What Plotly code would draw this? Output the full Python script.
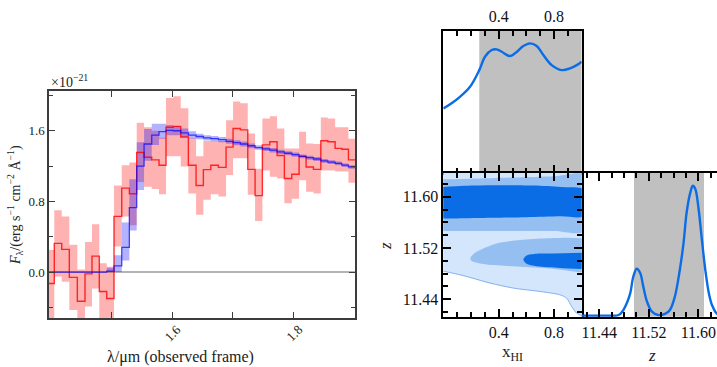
import plotly.graph_objects as go

FONT = "Liberation Serif"

# ---------------- spectrum (left panel), flux in units of 1e-21 ----------------
wave_edges = [1.3942, 1.4064, 1.4186, 1.4311, 1.4443, 1.4569, 1.4684, 1.4804, 1.4926,
              1.5046, 1.5173, 1.5298, 1.5419, 1.5540, 1.5666, 1.5786, 1.5901, 1.6021,
              1.6143, 1.6268, 1.6395, 1.6515, 1.6637, 1.6762, 1.6888, 1.7003, 1.7123,
              1.7245, 1.7365, 1.7485, 1.7607, 1.7727, 1.7847, 1.7969, 1.8089, 1.8204,
              1.8324, 1.8446, 1.8561, 1.8681, 1.8791, 1.8900, 1.9021]
obs_flux = [-0.13, 0.325, 0.257, -0.06, -0.33, -0.02, 0.18, -0.22, -0.30, 0.63, 0.95,
            0.886, 1.354, 1.30, 1.27, 1.21, 1.64, 1.65, 1.53, 1.21, 0.98, 1.16, 1.21,
            1.185, 1.415, 1.625, 1.61, 1.163, 0.866, 1.44, 1.475, 1.32, 1.06, 1.107,
            1.31, 1.19, 1.163, 1.487, 1.475, 1.40, 1.39, 1.27]
obs_hi = [0.25, 0.70, 0.63, 0.31, 0.03, 0.34, 0.54, 0.10, 0.06, 0.98, 1.21, 1.24, 1.69,
          1.64, 1.60, 1.52, 1.97, 1.99, 1.855, 1.515, 1.31, 1.485, 1.485, 1.485, 1.72,
          1.93, 1.91, 1.57, 1.17, 1.74, 1.765, 1.625, 1.40, 1.40, 1.59, 1.455, 1.45,
          1.75, 1.74, 1.64, 1.64, 1.51]
obs_lo = [-0.55, -0.05, -0.11, -0.43, -0.69, -0.39, -0.185, -0.54, -0.66, 0.29, 0.63,
          0.53, 1.02, 0.965, 0.94, 0.88, 1.31, 1.31, 1.195, 0.89, 0.65, 0.82, 0.88,
          0.855, 1.10, 1.29, 1.29, 0.875, 0.577, 1.15, 1.08, 1.06, 0.78, 0.83, 1.04,
          0.91, 0.89, 1.15, 1.15, 1.14, 1.14, 1.01]
mod_flux = [0.0, 0.0, 0.0, 0.0, 0.0, 0.0, 0.0, 0.0, 0.01, 0.07, 0.28, 0.73, 1.20, 1.45,
            1.55, 1.59, 1.605, 1.60, 1.575, 1.55, 1.535, 1.52, 1.51, 1.50, 1.48, 1.465,
            1.45, 1.43, 1.41, 1.395, 1.38, 1.36, 1.345, 1.33, 1.31, 1.295, 1.28, 1.26,
            1.245, 1.23, 1.21, 1.19]
mod_lo = [0.0, 0.0, 0.0, 0.0, 0.0, 0.0, 0.0, 0.0, 0.0, 0.0, 0.13, 0.47, 0.93, 1.26,
          1.44, 1.51, 1.55, 1.55, 1.53, 1.51, 1.505, 1.49, 1.48, 1.47, 1.452, 1.437,
          1.422, 1.403, 1.384, 1.37, 1.355, 1.336, 1.322, 1.307, 1.288, 1.273, 1.258,
          1.239, 1.224, 1.209, 1.19, 1.17]
mod_hi = [0.0, 0.0, 0.0, 0.0, 0.0, 0.0, 0.0, 0.0, 0.05, 0.19, 0.56, 1.05, 1.47, 1.62,
          1.68, 1.68, 1.665, 1.655, 1.625, 1.595, 1.565, 1.55, 1.54, 1.53, 1.508,
          1.493, 1.478, 1.457, 1.436, 1.42, 1.405, 1.384, 1.368, 1.353, 1.332, 1.317,
          1.302, 1.281, 1.266, 1.251, 1.23, 1.21]
spec_xticks = [1.6, 1.8]
spec_yticks = [0.0, 0.8, 1.6]

# ---------------- x_HI marginal (top panel) ----------------
xhi_grid = [0.0, 0.06, 0.12, 0.193, 0.26, 0.301, 0.35, 0.386, 0.422, 0.482, 0.518,
            0.578, 0.626, 0.675, 0.723, 0.783, 0.855, 0.915, 0.964, 1.0]
xhi_pdf = [0.453, 0.49, 0.535, 0.606, 0.723, 0.817, 0.864, 0.869, 0.852, 0.822, 0.841,
           0.892, 0.911, 0.892, 0.829, 0.758, 0.723, 0.735, 0.758, 0.782]
xhi_interval = [0.26, 1.0]

# ---------------- z marginal (bottom-right panel) ----------------
z_grid = [11.405, 11.44, 11.46, 11.468, 11.474, 11.479, 11.485, 11.490, 11.495, 11.5004,
          11.506, 11.511, 11.517, 11.525, 11.535, 11.546, 11.554, 11.562, 11.570,
          11.576, 11.581, 11.587, 11.591, 11.595, 11.600, 11.606, 11.611, 11.617,
          11.622, 11.630, 11.64]
z_pdf = [0.007, 0.007, 0.007, 0.008, 0.02, 0.047, 0.10, 0.164, 0.28, 0.334, 0.304, 0.21,
         0.105, 0.035, 0.012, 0.019, 0.047, 0.14, 0.327, 0.514, 0.725, 0.865, 0.911,
         0.888, 0.76, 0.52, 0.33, 0.16, 0.08, 0.02, 0.008]
z_interval = [11.496, 11.609]

# ---------------- 2D posterior contours (x_HI, z) ----------------
c_light_x = [-0.02, -0.02, 0.0, 0.145, 0.337, 0.506, 0.699, 0.843, 0.891, 0.928, 0.964, 1.0, 1.02, 1.02]
c_light_z = [11.70, 11.4835, 11.4835, 11.4767, 11.4652, 11.4573, 11.452, 11.4468, 11.4416,
             11.4283, 11.418, 11.4137, 11.40, 11.70]
c_mid_up_x = [-0.02, 0.2, 0.5, 0.8, 1.02, 1.02, 0.8, 0.5, 0.2, -0.02]
c_mid_up_z = [11.627, 11.628, 11.630, 11.632, 11.634, 11.546, 11.5465, 11.5465, 11.5465, 11.5465]
c_dark_up_x = [-0.02, 0.15, 0.4, 0.65, 0.85, 1.02, 1.02, 0.85, 0.6, 0.35, 0.1, -0.02]
c_dark_up_z = [11.615, 11.617, 11.6178, 11.6173, 11.615, 11.611, 11.570, 11.5695, 11.568,
               11.567, 11.566, 11.566]
c_mid_lo_x = [1.02, 0.891, 0.747, 0.554, 0.385, 0.289, 0.229, 0.196, 0.20, 0.229, 0.313,
              0.506, 0.747, 1.02]
c_mid_lo_z = [11.535, 11.536, 11.535, 11.5323, 11.5271, 11.5192, 11.5124, 11.5046, 11.5005,
              11.4976, 11.494, 11.4913, 11.4882, 11.481]
c_dark_lo_x = [1.02, 0.795, 0.675, 0.602, 0.578, 0.602, 0.675, 0.843, 1.02]
c_dark_lo_z = [11.5124, 11.5113, 11.5109, 11.5082, 11.5019, 11.4951, 11.4913, 11.4888, 11.487]
hi_ticks = [0.4, 0.8]
z_ticks = [11.44, 11.52, 11.60]

DARK = "#0b6de6"
MID = "#95bff1"
LIGHT = "#d3e6fb"

fig = go.Figure()


def stepped(v):
    return list(v) + [v[-1]]


# left panel
fig.add_trace(go.Scatter(x=wave_edges, y=stepped(obs_lo), mode="lines", line=dict(width=0, shape="hv"),
                         hoverinfo="skip", showlegend=False))
fig.add_trace(go.Scatter(x=wave_edges, y=stepped(obs_hi), mode="lines", line=dict(width=0, shape="hv"),
                         fill="tonexty", fillcolor="rgba(255,0,0,0.30)", hoverinfo="skip", showlegend=False))
fig.add_trace(go.Scatter(x=wave_edges, y=stepped(mod_lo), mode="lines", line=dict(width=0, shape="hv"),
                         hoverinfo="skip", showlegend=False))
fig.add_trace(go.Scatter(x=wave_edges, y=stepped(mod_hi), mode="lines", line=dict(width=0, shape="hv"),
                         fill="tonexty", fillcolor="rgba(0,0,255,0.30)", hoverinfo="skip", showlegend=False))
fig.add_trace(go.Scatter(x=wave_edges, y=stepped(obs_flux), mode="lines",
                         line=dict(color="rgba(255,0,0,0.8)", width=1.4, shape="hv"), showlegend=False))
fig.add_trace(go.Scatter(x=wave_edges, y=stepped(mod_flux), mode="lines",
                         line=dict(color="rgba(0,0,255,0.7)", width=1.3, shape="hv"), showlegend=False))

# top panel (x_HI marginal)
fig.add_trace(go.Scatter(x=xhi_grid, y=xhi_pdf, mode="lines", xaxis="x2", yaxis="y2",
                         line=dict(color=DARK, width=2.4, shape="spline"), showlegend=False))

# 2D panel
for xs, zs, col, lw in [(c_light_x, c_light_z, LIGHT, 1.0), (c_mid_up_x, c_mid_up_z, MID, 0),
                        (c_dark_up_x, c_dark_up_z, DARK, 0), (c_mid_lo_x, c_mid_lo_z, MID, 0),
                        (c_dark_lo_x, c_dark_lo_z, DARK, 0)]:
    fig.add_trace(go.Scatter(x=xs, y=zs, mode="lines", xaxis="x3", yaxis="y3", fill="toself",
                             fillcolor=col, line=dict(color="#7fb0ee" if lw else col, width=lw,
                                                      shape="spline", smoothing=0.8),
                             hoverinfo="skip", showlegend=False))

# z marginal
fig.add_trace(go.Scatter(x=z_grid, y=z_pdf, mode="lines", xaxis="x4", yaxis="y4",
                         line=dict(color=DARK, width=2.4, shape="spline"), showlegend=False))

fig.add_shape(type="rect", xref="x2", yref="y2 domain", x0=xhi_interval[0], x1=xhi_interval[1],
              y0=0, y1=1, fillcolor="#c0c0c0", line_width=0, layer="below")
fig.add_shape(type="rect", xref="x4", yref="y4 domain", x0=z_interval[0], x1=z_interval[1],
              y0=0, y1=1, fillcolor="#c0c0c0", line_width=0, layer="below")

W, H = 717, 367


def px(xp):
    return xp / W


def py(yp):
    return 1 - yp / H


LCOL = "#3c3c3c"
left_axis = dict(showline=True, linecolor=LCOL, linewidth=1.5, mirror="allticks", ticks="inside",
                 tickcolor=LCOL, tickwidth=1.2, showgrid=False, zeroline=False,
                 tickfont=dict(family=FONT, size=13, color="#222"))
right_axis = dict(showline=True, linecolor="black", linewidth=1.8, mirror="allticks", ticks="inside",
                  tickcolor="black", tickwidth=1.5, ticklen=8, showgrid=False, zeroline=False,
                  tickfont=dict(family=FONT, size=16, color="#111"))

fig.update_layout(
    width=W, height=H, margin=dict(l=0, r=0, t=0, b=0),
    paper_bgcolor="white", plot_bgcolor="white", showlegend=False,
    xaxis=dict(left_axis, domain=[px(49), px(355)], range=[1.3977, 1.9008], tickmode="array",
               tickvals=[1.5, 1.6, 1.7, 1.8, 1.9], ticklen=6, showticklabels=False, anchor="y"),
    yaxis=dict(left_axis, domain=[py(318), py(91)], range=[-0.52, 2.05], tickmode="array",
               tickvals=spec_yticks, ticktext=["%.1f" % v for v in spec_yticks], ticklen=6,
               minor=dict(ticks="inside", tickvals=[-0.4, 0.4, 1.2, 2.0], ticklen=4,
                          tickcolor=LCOL, tickwidth=1.2),
               zeroline=True, zerolinecolor="#b4b4b4", zerolinewidth=1.6, anchor="x"),
    xaxis2=dict(right_axis, domain=[px(443.3), px(581.7)], range=[0, 1], side="top", anchor="y2",
                tickmode="array", tickvals=hi_ticks, ticktext=["%.1f" % v for v in hi_ticks],
                minor=dict(ticks="inside", dtick=0.1, tick0=0, ticklen=5, tickcolor="black", tickwidth=1.5)),
    yaxis2=dict(showline=True, linecolor="black", linewidth=1.8, mirror=True, ticks="",
                showticklabels=False, showgrid=False, zeroline=False,
                domain=[py(173), py(30.7)], range=[0, 1], anchor="x2"),
    xaxis3=dict(right_axis, domain=[px(443.3), px(581.7)], range=[0, 1], anchor="y3",
                tickmode="array", tickvals=hi_ticks, ticktext=["%.1f" % v for v in hi_ticks],
                minor=dict(ticks="inside", dtick=0.1, tick0=0, ticklen=5, tickcolor="black", tickwidth=1.5)),
    yaxis3=dict(right_axis, domain=[py(316.7), py(173)], range=[11.4126, 11.637], anchor="x3",
                tickmode="array", tickvals=z_ticks, ticktext=["%.2f" % v for v in z_ticks],
                minor=dict(ticks="inside", dtick=0.02, tick0=11.40, ticklen=5, tickcolor="black", tickwidth=1.5)),
    xaxis4=dict(right_axis, domain=[px(581.7), 1.0], range=[11.4116, 11.630], anchor="y4",
                tickmode="array", tickvals=z_ticks, ticktext=["%.2f" % v for v in z_ticks],
                minor=dict(ticks="inside", dtick=0.02, tick0=11.40, ticklen=5, tickcolor="black", tickwidth=1.5)),
    yaxis4=dict(showline=False, ticks="", showticklabels=False, showgrid=False, zeroline=False,
                domain=[py(316.7), py(173)], range=[0, 1], anchor="x4"),
)

ann = []
for v in spec_xticks:
    ann.append(dict(x=v, xref="x", y=py(333), yref="paper", text="%.1f" % v, showarrow=False,
                    textangle=-45, font=dict(family=FONT, size=13, color="#222"),
                    xanchor="center", yanchor="middle"))
ann += [
    dict(x=px(49), y=py(81), xref="paper", yref="paper", text="×10<sup>−21</sup>", showarrow=False,
         xanchor="left", yanchor="middle", font=dict(family=FONT, size=14, color="#222")),
    dict(x=px(15), y=py(205), xref="paper", yref="paper", textangle=-90,
         text="<i>F</i><sub>λ</sub>/(erg s<sup>−1</sup> cm<sup>−2</sup> Å<sup>−1</sup>)", showarrow=False,
         xanchor="center", yanchor="middle", font=dict(family=FONT, size=14, color="#222")),
    dict(x=px(180), y=py(357), xref="paper", yref="paper", text="λ/μm (observed frame)", showarrow=False,
         xanchor="center", yanchor="middle", font=dict(family=FONT, size=16, color="#222")),
    dict(x=px(512), y=py(353), xref="paper", yref="paper", text="x<sub>HI</sub>", showarrow=False,
         xanchor="center", yanchor="middle", font=dict(family=FONT, size=17, color="#222")),
    dict(x=px(385), y=py(246), xref="paper", yref="paper", text="<i>z</i>", showarrow=False, textangle=-90,
         xanchor="center", yanchor="middle", font=dict(family=FONT, size=17, color="#222")),
    dict(x=px(652), y=py(355), xref="paper", yref="paper", text="<i>z</i>", showarrow=False,
         xanchor="center", yanchor="middle", font=dict(family=FONT, size=17, color="#222")),
]
fig.update_layout(annotations=ann)

fig.write_html("out.html")
